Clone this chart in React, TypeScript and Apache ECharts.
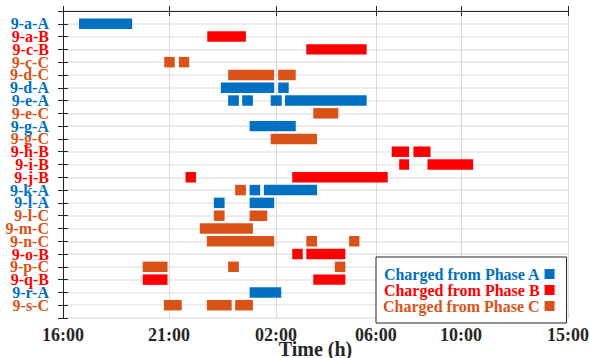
import React, { useEffect, useRef } from "react";
import * as echarts from "echarts";

// Row labels (top to bottom)
const rowNames = [
  "9-a-A", "9-a-B", "9-c-B", "9-c-C", "9-d-C", "9-d-A", "9-e-A", "9-e-C",
  "9-g-A", "9-g-C", "9-h-B", "9-i-B", "9-j-B", "9-k-A", "9-l-A", "9-l-C",
  "9-m-C", "9-n-C", "9-o-B", "9-p-C", "9-q-B", "9-r-A", "9-s-C",
];

// x values are hours elapsed since 16:00
const xTickHours = [0, 4.83, 9.7, 14.25, 18.13, 23];
const xTickLabels = ["16:00", "21:00", "02:00", "06:00", "10:00", "15:00"];

// Charging intervals: [row, start, end]
const phaseABars: [string, number, number][] = [
  ["9-a-A", 0.73, 3.15],
  ["9-d-A", 7.19, 9.62], ["9-d-A", 9.8, 10.28],
  ["9-e-A", 7.52, 8.01], ["9-e-A", 8.16, 8.65], ["9-e-A", 9.46, 9.96], ["9-e-A", 10.11, 13.83],
  ["9-g-A", 8.5, 10.6],
  ["9-k-A", 8.5, 8.98], ["9-k-A", 9.15, 11.57],
  ["9-l-A", 6.87, 7.36], ["9-l-A", 8.5, 9.62],
  ["9-r-A", 8.5, 9.94],
];
const phaseBBars: [string, number, number][] = [
  ["9-a-B", 6.57, 8.33],
  ["9-c-B", 11.08, 13.83],
  ["9-h-B", 14.97, 15.76], ["9-h-B", 15.96, 16.74],
  ["9-i-B", 15.31, 15.76], ["9-i-B", 16.6, 18.68],
  ["9-j-B", 5.58, 6.06], ["9-j-B", 10.44, 14.79],
  ["9-o-B", 10.44, 10.92], ["9-o-B", 11.08, 12.86],
  ["9-q-B", 3.63, 4.76], ["9-q-B", 11.4, 12.86],
];
const phaseCBars: [string, number, number][] = [
  ["9-c-C", 4.61, 5.09], ["9-c-C", 5.28, 5.75],
  ["9-d-C", 7.52, 9.62], ["9-d-C", 9.8, 10.6],
  ["9-e-C", 11.4, 12.54],
  ["9-g-C", 9.46, 11.57],
  ["9-k-A", 7.84, 8.33],
  ["9-l-C", 6.87, 7.36], ["9-l-C", 8.5, 9.3],
  ["9-m-C", 6.23, 8.65],
  ["9-n-C", 6.55, 9.62], ["9-n-C", 11.08, 11.57], ["9-n-C", 13.03, 13.5],
  ["9-p-C", 3.63, 4.76], ["9-p-C", 7.52, 8.01], ["9-p-C", 12.38, 12.86],
  ["9-s-C", 4.6, 5.41], ["9-s-C", 6.55, 7.68], ["9-s-C", 7.84, 8.65],
];

const seriesNames = ["Charged from Phase A", "Charged from Phase B", "Charged from Phase C"];
const phaseColors: Record<string, string> = { A: "#0070C0", B: "#FF0000", C: "#D95319" };

const FONT = "'Liberation Serif', 'Times New Roman', serif";
const AXIS_COLOR = "#262626";

export default function App() {
  const ref = useRef<HTMLDivElement>(null);

  useEffect(() => {
    if (!ref.current) return;
    const chart = echarts.init(ref.current, null, { renderer: "svg" });

    const toData = (bars: [string, number, number][]) =>
      bars.map(([row, s, e]) => [rowNames.indexOf(row) + 1, s, e]);

    const renderItem = (params: any, api: any) => {
      const row = api.value(0);
      const s = api.value(1);
      const e = api.value(2);
      const p0 = api.coord([s, row]);
      const p1 = api.coord([e, row]);
      const h = api.size([0, 1])[1] * 0.82;
      return {
        type: "rect",
        shape: { x: p0[0], y: p0[1] - h / 2, width: p1[0] - p0[0], height: h },
        style: { fill: api.visual("color") },
      };
    };

    const phases = ["A", "B", "C"];
    const allBars = [phaseABars, phaseBBars, phaseCBars];

    const rich: any = {};
    phases.forEach((p) => {
      rich[p] = { color: phaseColors[p], fontFamily: FONT, fontWeight: "bold", fontSize: 16 };
    });

    chart.setOption({
      animation: false,
      textStyle: { fontFamily: FONT },
      grid: { left: 63, right: 22, top: 11, bottom: 40, containLabel: false, outerBoundsMode: "none" },
      legend: {
        orient: "vertical",
        left: 376,
        top: 257,
        align: "right",
        itemWidth: 10,
        itemHeight: 10,
        itemGap: 0,
        padding: [9, 12, 9, 7],
        backgroundColor: "#ffffff",
        borderColor: "#222",
        borderWidth: 1,
        icon: "rect",
        data: seriesNames.map((n, i) => ({
          name: n,
          textStyle: {
            color: phaseColors[phases[i]],
            fontFamily: FONT,
            fontWeight: "bold",
            fontSize: 16,
            lineHeight: 14,
          },
        })),
      },
      xAxis: [
        {
          type: "value",
          min: 0,
          max: 23,
          position: "bottom",
          name: "Time (h)",
          nameLocation: "middle",
          nameGap: 21,
          nameMoveOverlap: false,
          nameTextStyle: { fontFamily: FONT, fontWeight: "bold", fontSize: 20, color: AXIS_COLOR },
          axisLine: { show: true, lineStyle: { color: AXIS_COLOR, width: 1 } },
          axisTick: { show: true, inside: true, length: 5, customValues: xTickHours, lineStyle: { color: AXIS_COLOR } },
          axisLabel: {
            show: true,
            customValues: xTickHours,
            margin: 8,
            fontFamily: FONT,
            fontWeight: "bold",
            fontSize: 18,
            color: AXIS_COLOR,
            formatter: (v: number) => {
              const i = xTickHours.findIndex((t) => Math.abs(t - v) < 1e-6);
              return i >= 0 ? xTickLabels[i] : "";
            },
          },
          splitLine: { show: true, lineStyle: { color: "#dadada", width: 1 } },
        },
        {
          type: "value",
          min: 0,
          max: 23,
          position: "top",
          axisLine: { show: true, lineStyle: { color: AXIS_COLOR, width: 1 } },
          axisTick: { show: true, inside: true, length: 5, customValues: xTickHours, lineStyle: { color: AXIS_COLOR } },
          axisLabel: { show: false },
          splitLine: { show: false },
        },
      ],
      yAxis: [
        {
          type: "value",
          min: 0,
          max: 24,
          interval: 1,
          inverse: true,
          position: "left",
          axisLine: { show: true, lineStyle: { color: AXIS_COLOR, width: 1 } },
          axisTick: { show: true, inside: true, length: 5, lineStyle: { color: AXIS_COLOR } },
          axisLabel: {
            show: true,
            margin: 14,
            rich,
            formatter: (v: number) => {
              const name = rowNames[Math.round(v) - 1];
              if (!name || v < 1 || v > rowNames.length) return "";
              const p = name.charAt(name.length - 1);
              return `{${p}|${name}}`;
            },
          },
          splitLine: { show: true, lineStyle: { color: "#e6e6e6", width: 1.5 } },
        },
        {
          type: "value",
          min: 0,
          max: 24,
          interval: 1,
          inverse: true,
          position: "right",
          axisLine: { show: true, lineStyle: { color: AXIS_COLOR, width: 1 } },
          axisTick: { show: true, inside: true, length: 5, lineStyle: { color: AXIS_COLOR } },
          axisLabel: { show: false },
          splitLine: { show: false },
        },
      ],
      series: allBars.map((bars, i) => ({
        type: "custom",
        name: seriesNames[i],
        color: phaseColors[phases[i]],
        itemStyle: { color: phaseColors[phases[i]] },
        xAxisIndex: 0,
        yAxisIndex: 0,
        renderItem,
        encode: { x: [1, 2], y: 0 },
        data: toData(bars),
      })),
    });

    return () => chart.dispose();
  }, []);

  return (
    <div
      ref={ref}
      style={{ position: "absolute", left: 0, top: 0, width: 590, height: 358 }}
    />
  );
}
